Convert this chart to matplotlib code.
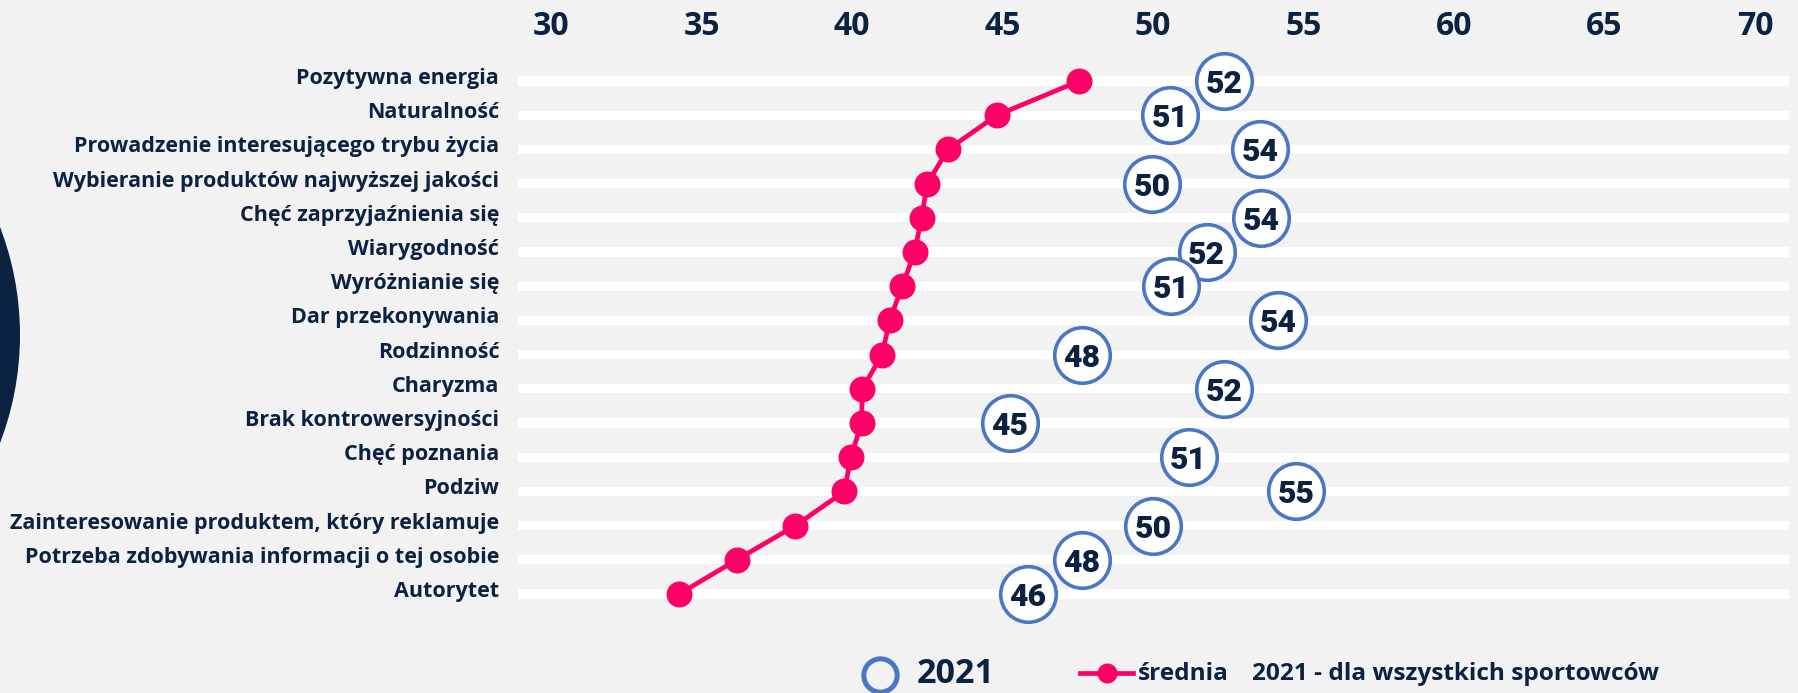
import matplotlib
matplotlib.use("Agg")
import matplotlib.pyplot as plt
from matplotlib.patches import Ellipse
from matplotlib.lines import Line2D
from matplotlib.transforms import ScaledTranslation

plt.rcParams['font.family'] = ['Open Sans', 'DejaVu Sans']

categories = [
    "Pozytywna energia",
    "Naturalność",
    "Prowadzenie interesującego trybu życia",
    "Wybieranie produktów najwyższej jakości",
    "Chęć zaprzyjaźnienia się",
    "Wiarygodność",
    "Wyróżnianie się",
    "Dar przekonywania",
    "Rodzinność",
    "Charyzma",
    "Brak kontrowersyjności",
    "Chęć poznania",
    "Podziw",
    "Zainteresowanie produktem, który reklamuje",
    "Potrzeba zdobywania informacji o tej osobie",
    "Autorytet",
]
values_2021 = [52.36, 50.58, 53.55, 49.97, 53.6, 51.78, 50.6, 54.15,
               47.63, 52.36, 45.25, 51.18, 54.75, 50.0, 47.63, 45.85]
labels_2021 = ["52", "51", "54", "50", "54", "52", "51", "54",
               "48", "52", "45", "51", "55", "50", "48", "46"]
srednia_all = [47.55, 44.82, 43.19, 42.5, 42.31, 42.08, 41.67, 41.25,
               41.0, 40.34, 40.32, 39.96, 39.75, 38.12, 36.17, 34.26]
x_ticks = [30, 35, 40, 45, 50, 55, 60, 65, 70]

NAVY = '#0d2240'
BLUE = '#4a76c6'
PINK = '#ff0066'
BG = '#f2f2f2'

W, H = 1798, 693
fig = plt.figure(figsize=(W / 100, H / 100), dpi=100, facecolor=BG)

ax_left, ax_right = 518 / W, 1789 / W
ax_top_px, ax_bot_px = 50, 630
ax = fig.add_axes([ax_left, 1 - ax_bot_px / H, ax_right - ax_left, (ax_bot_px - ax_top_px) / H])
ax.set_facecolor(BG)

x0_px, unit = 551, 30.1
ax.set_xlim(30 - (551 - 518) / unit, 30 + (1789 - 551) / unit)
row0, step = 81, 34.2
ax.set_ylim((ax_bot_px - row0) / step, (ax_top_px - row0) / step)

n = len(categories)
ys = list(range(n))

for y in ys:
    ax.axhspan(y - 0.135, y + 0.135, color='white', lw=0, zorder=1)

ax.plot(srednia_all, ys, color=PINK, lw=3.4, marker='o', ms=18.7,
        mec=PINK, mew=0, zorder=3, solid_capstyle='round')

for i, (v, lab) in enumerate(zip(values_2021, labels_2021)):
    z = 5 + i
    ax.plot([v], [i], marker='o', ms=40, mfc='white', mec=BLUE, mew=2.6,
            ls='none', zorder=z)
    ax.text(v, i, lab, ha='center', va='center_baseline', fontsize=23,
            fontweight='black', color=NAVY, zorder=z + 0.5,
            family=['Roboto', 'DejaVu Sans'])

for s in ax.spines.values():
    s.set_visible(False)

ax.xaxis.tick_top()
ax.set_xticks(x_ticks)
ax.set_xticklabels([str(t) for t in x_ticks], fontsize=23, fontweight='bold', color=NAVY)
ax.tick_params(axis='x', length=0, pad=5)

ax.set_yticks(ys)
ax.set_yticklabels(categories, fontsize=15.45, fontweight='bold', color=NAVY, va='baseline')
ax.tick_params(axis='y', length=0, pad=13.5)
off = ScaledTranslation(0, -3 / 100, fig.dpi_scale_trans)
for lab in ax.get_yticklabels():
    lab.set_transform(lab.get_transform() + off)

# decorative dark circle on the left
R = 302
fig.add_artist(Ellipse((-282 / W, 1 - 335 / H), 2 * R / W, 2 * R / H,
                       transform=fig.transFigure, facecolor='#0b2240', edgecolor='none'))

# legend (manual)
ly = 1 - 674 / H
fig.add_artist(Line2D([880 / W], [1 - 675 / H], marker='o', ms=24, mfc='none',
                      mec=BLUE, mew=3.6, ls='none', transform=fig.transFigure))
fig.text(917 / W, ly, "2021", fontsize=24.5, fontweight='bold', color=NAVY,
         ha='left', va='center')
fig.add_artist(Line2D([1080 / W, 1133 / W], [1 - 673 / H] * 2, color=PINK, lw=3.4,
                      transform=fig.transFigure))
fig.add_artist(Line2D([1107 / W], [1 - 673 / H], marker='o', ms=14.4, color=PINK,
                      mew=0, transform=fig.transFigure))
fig.text(1138 / W, ly, "średnia", fontsize=17.6, fontweight='bold', color=NAVY,
         ha='left', va='center')
fig.text(1252 / W, ly, "2021 - dla wszystkich sportowców", fontsize=17.6,
         fontweight='bold', color=NAVY, ha='left', va='center')

fig.savefig("out.png", dpi=100, facecolor=BG)
